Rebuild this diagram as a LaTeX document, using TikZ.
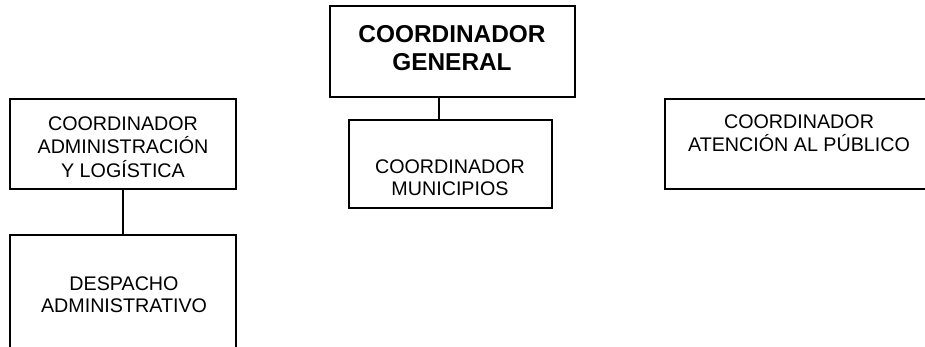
\documentclass[tikz,border=0pt]{standalone}
\usepackage{fontspec}
\setmainfont{Liberation Sans}
\begin{document}
\begin{tikzpicture}[x=1pt,y=-1pt,
  box/.style={draw=black,line width=1.4pt,rectangle,inner sep=0pt},
  conn/.style={draw=black,line width=1.4pt},
  lbl/.style={inner sep=0pt,anchor=base,font=\fontsize{19.7}{22.7}\selectfont},
  blbl/.style={inner sep=0pt,anchor=base,font=\fontsize{24.4}{28}\selectfont\bfseries}]
\useasboundingbox (0,0) rectangle (925,346);
\clip (0,0) rectangle (925,346);
% boxes
\node[box,minimum width=245pt,minimum height=91pt] (gen) at (452.5,51.5) {};
\node[box,minimum width=203pt,minimum height=88pt] (mun) at (450.5,164) {};
\node[box,minimum width=226pt,minimum height=90pt] (adm) at (123,144) {};
\node[box,minimum width=226pt,minimum height=135pt] (des) at (123,302.5) {};
\node[box,minimum width=270pt,minimum height=90pt] (ate) at (800,144) {};
% texts
\node[blbl] (tgen) at (452,42) {\begin{tabular}[t]{@{}c@{}}COORDINADOR\\GENERAL\end{tabular}};
\node[lbl] (tmun) at (450,173) {\begin{tabular}[t]{@{}c@{}}COORDINADOR\\MUNICIPIOS\end{tabular}};
\node[lbl] (tadm) at (123,130) {\begin{tabular}[t]{@{}c@{}}COORDINADOR\\ADMINISTRACIÓN\\Y LOGÍSTICA\end{tabular}};
\node[lbl] (tdes) at (124,290) {\begin{tabular}[t]{@{}c@{}}DESPACHO\\ADMINISTRATIVO\end{tabular}};
\node[lbl] (tate) at (799,128) {\begin{tabular}[t]{@{}c@{}}COORDINADOR\\ATENCIÓN AL PÚBLICO\end{tabular}};
% connectors
\coordinate (c1) at (439,97);
\draw[conn] (c1) -- (c1 |- mun.north);
\draw[conn] (adm.south) -- (des.north);
\end{tikzpicture}
\end{document}
